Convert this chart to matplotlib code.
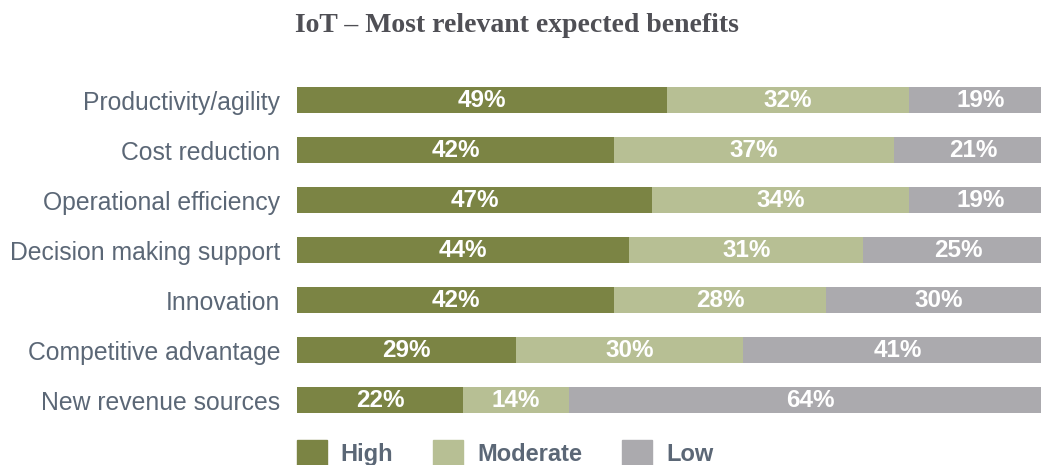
import numpy as np
import matplotlib
matplotlib.use("Agg")
import matplotlib.pyplot as plt
from matplotlib.patches import Patch

categories = ["Productivity/agility", "Cost reduction", "Operational efficiency",
              "Decision making support", "Innovation", "Competitive advantage",
              "New revenue sources"]
high = [49, 42, 47, 44, 42, 29, 22]
moderate = [32, 37, 34, 31, 28, 30, 14]
low = [19, 21, 19, 25, 30, 41, 64]
series_names = ["High", "Moderate", "Low"]
colors = ["#7b8444", "#b7bf94", "#abaaae"]

fig = plt.figure(figsize=(10.41, 4.65), dpi=100)
ax = fig.add_axes([297 / 1041, 1 - 425 / 465, 1 - 297 / 1041, 350 / 465])

y = np.arange(len(categories))
left = np.zeros(len(categories))
for vals, c in zip([high, moderate, low], colors):
    vals = np.array(vals)
    ax.barh(y, vals, left=left, height=0.52, color=c)
    for yi, l, v in zip(y, left, vals):
        ax.text(l + v / 2, yi, f"{v}%", ha="center", va="center",
                color="white", fontsize=17.5, fontweight="bold",
                family="Liberation Sans")
    left += vals

ax.set_xlim(0, 98.5)
ax.set_ylim(len(categories) - 0.5, -0.5)
ax.set_yticks(y)
ax.set_yticklabels(categories, fontsize=17.8, color="#5b6776", family="Liberation Sans")
ax.tick_params(axis="y", length=0, pad=12)
ax.set_xticks([])
for s in ax.spines.values():
    s.set_visible(False)

fig.text(517 / 1041, 1 - 25 / 465, "IoT \u2013 Most relevant expected benefits",
         ha="center", va="center", fontsize=20, fontweight="bold",
         color="#4f4f55", family="Liberation Serif")

handles = [Patch(color=c) for c in colors]
leg = fig.legend(handles, series_names, loc="center left", ncol=3,
                 bbox_to_anchor=(297 / 1041, 1 - 453 / 465), frameon=False,
                 handlelength=1.25, handleheight=1.25, handletextpad=0.6,
                 columnspacing=1.7, borderpad=0, borderaxespad=0,
                 prop={"family": "Liberation Sans", "size": 17, "weight": "bold"})
for t in leg.get_texts():
    t.set_color("#5b6776")

fig.savefig("out.png", dpi=100)
